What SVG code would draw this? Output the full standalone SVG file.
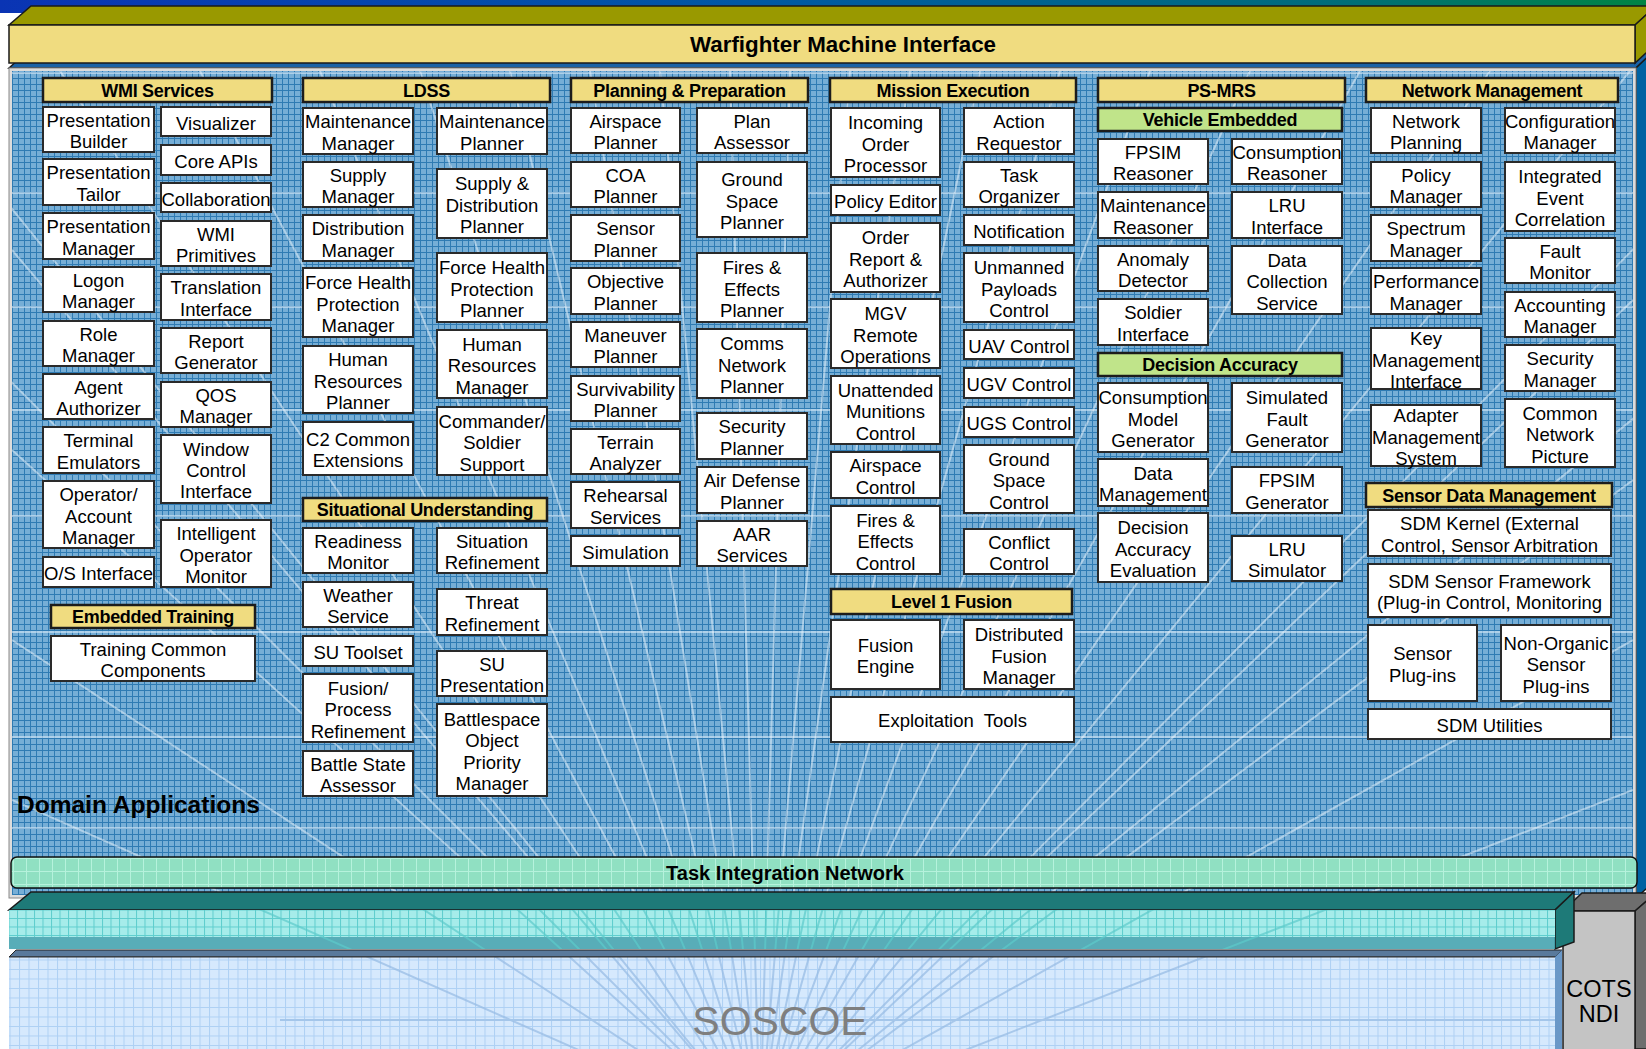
<svg xmlns="http://www.w3.org/2000/svg" width="1646" height="1049" viewBox="0 0 1646 1049">
  <style>
    .n{fill:#fff;stroke:#2a2a2a;stroke-width:2}
    .hy{fill:#f0dc80;stroke:#1c1c1c;stroke-width:2.5}
    .hg{fill:#c0e48a;stroke:#1c1c1c;stroke-width:2.5}
    .t{font-family:"Liberation Sans",Arial,sans-serif;font-size:18.5px;text-anchor:middle;fill:#000}
    .h{font-family:"Liberation Sans",Arial,sans-serif;font-size:18px;font-weight:bold;text-anchor:middle;letter-spacing:-0.3px;fill:#000}
    .edge{stroke:#1a1a1a;stroke-width:1.5}
    .ray-dom{fill:none;stroke:#eaf4fc;stroke-opacity:.5;stroke-width:2}
    .ray-cyan{fill:none;stroke:#5ccaca;stroke-opacity:.7;stroke-width:2}
    .ray-sos{fill:none;stroke:#98bce4;stroke-opacity:.75;stroke-width:2}
    .floor{stroke:#d6e8f6;stroke-opacity:.6;stroke-width:2}
  </style>
  <defs>
    <linearGradient id="topBand" x1="0" y1="0" x2="1" y2="0">
      <stop offset="0" stop-color="#0a34b4"/>
      <stop offset="0.45" stop-color="#0058a4"/>
      <stop offset="0.8" stop-color="#006c7c"/>
      <stop offset="1" stop-color="#008444"/>
    </linearGradient>
    <pattern id="gridDomain" width="6" height="6" patternUnits="userSpaceOnUse">
      <rect width="6" height="6" fill="#76aed6"/>
      <path d="M0 0.5H6M0.5 0V6" stroke="#2f7bb3" stroke-width="1"/>
    </pattern>
    <pattern id="gridTin" width="13" height="13" patternUnits="userSpaceOnUse">
      <rect width="13" height="13" fill="#90e0c2"/>
      <path d="M0 0.5H13M0.5 0V13" stroke="#b6f2dc" stroke-width="1"/>
    </pattern>
    <pattern id="gridCyan" width="8.5" height="8.5" patternUnits="userSpaceOnUse">
      <rect width="8.5" height="8.5" fill="#a6ecea"/>
      <path d="M0 0.5H8.5M0.5 0V8.5" stroke="#5ecdcd" stroke-width="1"/>
    </pattern>
    <pattern id="gridSos" width="9.5" height="9.5" patternUnits="userSpaceOnUse">
      <rect width="9.5" height="9.5" fill="#d6e9fd"/>
      <path d="M0 0.5H9.5M0.5 0V9.5" stroke="#aed0f4" stroke-width="1"/>
    </pattern>
    <clipPath id="clipDomain"><rect x="12" y="71" width="1621" height="824"/></clipPath>
    <clipPath id="clipCyan"><rect x="9" y="910" width="1546" height="39"/></clipPath>
    <clipPath id="clipSos"><rect x="9" y="957" width="1546" height="92"/></clipPath>
    <!-- perspective rays converging below the SOSCOE layer -->
    <path id="rays" d="M760 1130L12 250M760 1130L12 450M760 1130L12 640M760 1130L12 800
      M760 1130L-300 71M760 1130L-100 71M760 1130L60 71M760 1130L200 71M760 1130L320 71
      M760 1130L420 71M760 1130L510 71M760 1130L590 71M760 1130L660 71M760 1130L730 71
      M760 1130L790 71M760 1130L850 71M760 1130L910 71M760 1130L980 71M760 1130L1060 71
      M760 1130L1150 71M760 1130L1250 71M760 1130L1360 71M760 1130L1490 71M760 1130L1630 71
      M760 1130L1810 71M760 1130L2060 71M760 1130L1633 300M760 1130L1633 480
      M760 1130L1633 640M760 1130L1633 790"/>
  </defs>

  <rect width="1646" height="1049" fill="#fff"/>
  <rect x="0" y="0" width="1646" height="13" fill="url(#topBand)"/>

  <!-- Domain Applications panel (3D box) -->
  <g id="domain-panel">
    <polygon points="9,68 30,49 1656,49 1636,68" fill="#1a62a6" class="edge"/>
    <polygon points="1636,68 1656,49 1656,880 1636,898" fill="#0062a2" class="edge"/>
    <rect x="9" y="68" width="1627" height="830" fill="#dcdcdc" stroke="#8a8a8a" stroke-width="1"/>
    <rect x="12" y="71" width="1621" height="824" fill="url(#gridDomain)"/>
    <g clip-path="url(#clipDomain)">
      <path class="floor" d="M12 73H1633M12 193H1633M12 307H1633M12 410H1633M12 516H1633M12 632H1633M12 737H1633M12 828H1633"/>
      <use href="#rays" class="ray-dom"/>
    </g>
    <text x="17" y="813" font-family="'Liberation Sans',Arial,sans-serif" font-size="24.5" font-weight="bold" fill="#000">Domain Applications</text>
  </g>

  <!-- Warfighter Machine Interface slab -->
  <g id="wmi-slab">
    <polygon points="31,6 1656,6 1635,25 9,25" fill="#999900" class="edge"/>
    <polygon points="1635,25 1656,6 1656,44 1635,63" fill="#999900" class="edge"/>
    <rect x="9" y="25" width="1626" height="38" fill="#f0dc80" class="edge"/>
    <text x="843" y="52" font-family="'Liberation Sans',Arial,sans-serif" font-size="22" font-weight="bold" text-anchor="middle" textLength="306" lengthAdjust="spacingAndGlyphs">Warfighter Machine Interface</text>
  </g>

  <!-- Task Integration Network bar -->
  <g id="task-integration-network">
    <rect x="11" y="857" width="1626" height="31" rx="6" fill="url(#gridTin)" stroke="#111" stroke-width="1.5"/>
    <text x="785" y="880" font-family="'Liberation Sans',Arial,sans-serif" font-size="20" font-weight="bold" text-anchor="middle" textLength="238" lengthAdjust="spacingAndGlyphs">Task Integration Network</text>
  </g>

  <!-- COTS / NDI block -->
  <g id="cots-ndi">
    <polygon points="1563,911 1582,893 1656,893 1635,911" fill="#6e6e6e" class="edge"/>
    <polygon points="1635,911 1656,893 1656,1049 1635,1049" fill="#6e6e6e" class="edge"/>
    <rect x="1563" y="911" width="72" height="140" fill="#c4c4c4" class="edge"/>
    <text x="1599" y="997" font-family="'Liberation Sans',Arial,sans-serif" font-size="23.5" text-anchor="middle">COTS</text>
    <text x="1599" y="1022" font-family="'Liberation Sans',Arial,sans-serif" font-size="23.5" text-anchor="middle">NDI</text>
  </g>

  <!-- SOSCOE layer -->
  <g id="soscoe">
    <polygon points="31,892 1574,892 1555,910 9,910" fill="#1e7a78" class="edge"/>
    <polygon points="1555,910 1574,892 1574,942 1555,949" fill="#1e7a78" class="edge"/>
    <rect x="9" y="910" width="1546" height="27" fill="url(#gridCyan)"/>
    <rect x="9" y="937" width="1546" height="12" fill="#46a4b0" opacity="0.9"/>
    <g clip-path="url(#clipCyan)"><use href="#rays" class="ray-cyan"/></g>
    <polygon points="9,957 16,950 1562,950 1555,957" fill="#5a7a9c" stroke="#222" stroke-width="1"/>
    <polygon points="1555,957 1562,950 1562,1049 1555,1049" fill="#6a98c8"/>
    <rect x="9" y="957" width="1546" height="92" fill="url(#gridSos)"/>
    <g clip-path="url(#clipSos)">
      <use href="#rays" class="ray-sos"/>
      <path d="M280 1020H1555" stroke="#a4c6ea" stroke-width="2"/>
    </g>
    <line x1="9" y1="957" x2="1555" y2="957" stroke="#333" stroke-width="1"/>
    <text x="780" y="1035" font-family="'Liberation Sans',Arial,sans-serif" font-size="41" fill="#7f7f7f" text-anchor="middle">SOSCOE</text>
  </g>

  <g id="connectors"/>

  <!-- ===== WMI Services ===== -->
  <g id="wmi-services-header"><rect class="hy" x="43" y="78" width="229" height="24"/><text class="h" x="157.5" y="97">WMI Services</text></g>
  <g id="presentation-builder"><rect class="n" x="43" y="107" width="111" height="45"/><text class="t"><tspan x="98.5" y="126.75">Presentation</tspan><tspan x="98.5" y="148.25">Builder</tspan></text></g>
  <g id="presentation-tailor"><rect class="n" x="43" y="159" width="111" height="46"/><text class="t"><tspan x="98.5" y="179.25">Presentation</tspan><tspan x="98.5" y="200.75">Tailor</tspan></text></g>
  <g id="presentation-manager"><rect class="n" x="43" y="213" width="111" height="46"/><text class="t"><tspan x="98.5" y="233.25">Presentation</tspan><tspan x="98.5" y="254.75">Manager</tspan></text></g>
  <g id="logon-manager"><rect class="n" x="43" y="267" width="111" height="45"/><text class="t"><tspan x="98.5" y="286.75">Logon</tspan><tspan x="98.5" y="308.25">Manager</tspan></text></g>
  <g id="role-manager"><rect class="n" x="43" y="321" width="111" height="45"/><text class="t"><tspan x="98.5" y="340.75">Role</tspan><tspan x="98.5" y="362.25">Manager</tspan></text></g>
  <g id="agent-authorizer"><rect class="n" x="43" y="374" width="111" height="45"/><text class="t"><tspan x="98.5" y="393.75">Agent</tspan><tspan x="98.5" y="415.25">Authorizer</tspan></text></g>
  <g id="terminal-emulators"><rect class="n" x="43" y="427" width="111" height="46"/><text class="t"><tspan x="98.5" y="447.25">Terminal</tspan><tspan x="98.5" y="468.75">Emulators</tspan></text></g>
  <g id="operator-account-manager"><rect class="n" x="43" y="481" width="111" height="67"/><text class="t"><tspan x="98.5" y="501">Operator/</tspan><tspan x="98.5" y="522.5">Account</tspan><tspan x="98.5" y="544">Manager</tspan></text></g>
  <g id="os-interface"><rect class="n" x="43" y="557" width="111" height="30"/><text class="t" x="98.5" y="580">O/S Interface</text></g>
  <g id="visualizer"><rect class="n" x="161" y="107" width="110" height="29"/><text class="t" x="216" y="129.5">Visualizer</text></g>
  <g id="core-apis"><rect class="n" x="161" y="145" width="110" height="30"/><text class="t" x="216" y="168">Core APIs</text></g>
  <g id="collaboration"><rect class="n" x="161" y="183" width="110" height="29"/><text class="t" x="216" y="205.5">Collaboration</text></g>
  <g id="wmi-primitives"><rect class="n" x="161" y="221" width="110" height="45"/><text class="t"><tspan x="216" y="240.75">WMI</tspan><tspan x="216" y="262.25">Primitives</tspan></text></g>
  <g id="translation-interface"><rect class="n" x="161" y="274" width="110" height="46"/><text class="t"><tspan x="216" y="294.25">Translation</tspan><tspan x="216" y="315.75">Interface</tspan></text></g>
  <g id="report-generator"><rect class="n" x="161" y="328" width="110" height="45"/><text class="t"><tspan x="216" y="347.75">Report</tspan><tspan x="216" y="369.25">Generator</tspan></text></g>
  <g id="qos-manager"><rect class="n" x="161" y="382" width="110" height="45"/><text class="t"><tspan x="216" y="401.75">QOS</tspan><tspan x="216" y="423.25">Manager</tspan></text></g>
  <g id="window-control-interface"><rect class="n" x="161" y="435" width="110" height="68"/><text class="t"><tspan x="216" y="456">Window</tspan><tspan x="216" y="477">Control</tspan><tspan x="216" y="498">Interface</tspan></text></g>
  <g id="intelligent-operator-monitor"><rect class="n" x="161" y="520" width="110" height="67"/><text class="t"><tspan x="216" y="540">Intelligent</tspan><tspan x="216" y="561.5">Operator</tspan><tspan x="216" y="583">Monitor</tspan></text></g>
  <g id="embedded-training-header"><rect class="hy" x="51" y="605" width="204" height="23"/><text class="h" x="153" y="623">Embedded Training</text></g>
  <g id="training-common-components"><rect class="n" x="51" y="636" width="204" height="45"/><text class="t"><tspan x="153" y="655.75">Training Common</tspan><tspan x="153" y="677.25">Components</tspan></text></g>

  <!-- ===== LDSS ===== -->
  <g id="ldss-header"><rect class="hy" x="303" y="78" width="247" height="24"/><text class="h" x="426.5" y="97">LDSS</text></g>
  <g id="maintenance-manager"><rect class="n" x="303" y="108" width="110" height="46"/><text class="t"><tspan x="358" y="128.25">Maintenance</tspan><tspan x="358" y="149.75">Manager</tspan></text></g>
  <g id="supply-manager"><rect class="n" x="303" y="162" width="110" height="45"/><text class="t"><tspan x="358" y="181.75">Supply</tspan><tspan x="358" y="203.25">Manager</tspan></text></g>
  <g id="distribution-manager"><rect class="n" x="303" y="215" width="110" height="46"/><text class="t"><tspan x="358" y="235.25">Distribution</tspan><tspan x="358" y="256.75">Manager</tspan></text></g>
  <g id="fhp-manager"><rect class="n" x="303" y="268" width="110" height="69"/><text class="t"><tspan x="358" y="289">Force Health</tspan><tspan x="358" y="310.5">Protection</tspan><tspan x="358" y="332">Manager</tspan></text></g>
  <g id="hr-planner"><rect class="n" x="303" y="346" width="110" height="67"/><text class="t"><tspan x="358" y="366">Human</tspan><tspan x="358" y="387.5">Resources</tspan><tspan x="358" y="409">Planner</tspan></text></g>
  <g id="c2-common-extensions"><rect class="n" x="303" y="422" width="110" height="53"/><text class="t"><tspan x="358" y="445.75">C2 Common</tspan><tspan x="358" y="467.25">Extensions</tspan></text></g>
  <g id="maintenance-planner"><rect class="n" x="437" y="108" width="110" height="46"/><text class="t"><tspan x="492" y="128.25">Maintenance</tspan><tspan x="492" y="149.75">Planner</tspan></text></g>
  <g id="supply-distribution-planner"><rect class="n" x="437" y="169" width="110" height="69"/><text class="t"><tspan x="492" y="190">Supply &amp;</tspan><tspan x="492" y="211.5">Distribution</tspan><tspan x="492" y="233">Planner</tspan></text></g>
  <g id="fhp-planner"><rect class="n" x="437" y="253" width="110" height="69"/><text class="t"><tspan x="492" y="274">Force Health</tspan><tspan x="492" y="295.5">Protection</tspan><tspan x="492" y="317">Planner</tspan></text></g>
  <g id="hr-manager"><rect class="n" x="437" y="330" width="110" height="68"/><text class="t"><tspan x="492" y="350.5">Human</tspan><tspan x="492" y="372">Resources</tspan><tspan x="492" y="393.5">Manager</tspan></text></g>
  <g id="commander-soldier-support"><rect class="n" x="437" y="407" width="110" height="68"/><text class="t"><tspan x="492" y="427.5">Commander/</tspan><tspan x="492" y="449">Soldier</tspan><tspan x="492" y="470.5">Support</tspan></text></g>
  <g id="su-header"><rect class="hy" x="303" y="498" width="244" height="23"/><text class="h" x="425" y="516">Situational Understanding</text></g>
  <g id="readiness-monitor"><rect class="n" x="303" y="528" width="110" height="45"/><text class="t"><tspan x="358" y="547.75">Readiness</tspan><tspan x="358" y="569.25">Monitor</tspan></text></g>
  <g id="weather-service"><rect class="n" x="303" y="582" width="110" height="45"/><text class="t"><tspan x="358" y="601.75">Weather</tspan><tspan x="358" y="623.25">Service</tspan></text></g>
  <g id="su-toolset"><rect class="n" x="303" y="636" width="110" height="30"/><text class="t" x="358" y="659">SU Toolset</text></g>
  <g id="fusion-process-refinement"><rect class="n" x="303" y="674" width="110" height="68"/><text class="t"><tspan x="358" y="694.5">Fusion/</tspan><tspan x="358" y="716">Process</tspan><tspan x="358" y="737.5">Refinement</tspan></text></g>
  <g id="battle-state-assessor"><rect class="n" x="303" y="751" width="110" height="45"/><text class="t"><tspan x="358" y="770.75">Battle State</tspan><tspan x="358" y="792.25">Assessor</tspan></text></g>
  <g id="situation-refinement"><rect class="n" x="437" y="528" width="110" height="45"/><text class="t"><tspan x="492" y="547.75">Situation</tspan><tspan x="492" y="569.25">Refinement</tspan></text></g>
  <g id="threat-refinement"><rect class="n" x="437" y="589" width="110" height="46"/><text class="t"><tspan x="492" y="609.25">Threat</tspan><tspan x="492" y="630.75">Refinement</tspan></text></g>
  <g id="su-presentation"><rect class="n" x="437" y="651" width="110" height="45"/><text class="t"><tspan x="492" y="670.75">SU</tspan><tspan x="492" y="692.25">Presentation</tspan></text></g>
  <g id="battlespace-object-priority-manager"><rect class="n" x="437" y="704" width="110" height="92"/><text class="t"><tspan x="492" y="725.75">Battlespace</tspan><tspan x="492" y="747.25">Object</tspan><tspan x="492" y="768.75">Priority</tspan><tspan x="492" y="790.25">Manager</tspan></text></g>

  <!-- ===== Planning & Preparation ===== -->
  <g id="planning-header"><rect class="hy" x="571" y="78" width="237" height="24"/><text class="h" x="689.5" y="97">Planning &amp; Preparation</text></g>
  <g id="airspace-planner"><rect class="n" x="571" y="108" width="109" height="45"/><text class="t"><tspan x="625.5" y="127.75">Airspace</tspan><tspan x="625.5" y="149.25">Planner</tspan></text></g>
  <g id="coa-planner"><rect class="n" x="571" y="162" width="109" height="45"/><text class="t"><tspan x="625.5" y="181.75">COA</tspan><tspan x="625.5" y="203.25">Planner</tspan></text></g>
  <g id="sensor-planner"><rect class="n" x="571" y="215" width="109" height="46"/><text class="t"><tspan x="625.5" y="235.25">Sensor</tspan><tspan x="625.5" y="256.75">Planner</tspan></text></g>
  <g id="objective-planner"><rect class="n" x="571" y="268" width="109" height="46"/><text class="t"><tspan x="625.5" y="288.25">Objective</tspan><tspan x="625.5" y="309.75">Planner</tspan></text></g>
  <g id="maneuver-planner"><rect class="n" x="571" y="322" width="109" height="45"/><text class="t"><tspan x="625.5" y="341.75">Maneuver</tspan><tspan x="625.5" y="363.25">Planner</tspan></text></g>
  <g id="survivability-planner"><rect class="n" x="571" y="376" width="109" height="45"/><text class="t"><tspan x="625.5" y="395.75">Survivability</tspan><tspan x="625.5" y="417.25">Planner</tspan></text></g>
  <g id="terrain-analyzer"><rect class="n" x="571" y="429" width="109" height="45"/><text class="t"><tspan x="625.5" y="448.75">Terrain</tspan><tspan x="625.5" y="470.25">Analyzer</tspan></text></g>
  <g id="rehearsal-services"><rect class="n" x="571" y="482" width="109" height="46"/><text class="t"><tspan x="625.5" y="502.25">Rehearsal</tspan><tspan x="625.5" y="523.75">Services</tspan></text></g>
  <g id="simulation"><rect class="n" x="571" y="536" width="109" height="30"/><text class="t" x="625.5" y="559">Simulation</text></g>
  <g id="plan-assessor"><rect class="n" x="697" y="108" width="110" height="45"/><text class="t"><tspan x="752" y="127.75">Plan</tspan><tspan x="752" y="149.25">Assessor</tspan></text></g>
  <g id="ground-space-planner"><rect class="n" x="697" y="162" width="110" height="75"/><text class="t"><tspan x="752" y="186">Ground</tspan><tspan x="752" y="207.5">Space</tspan><tspan x="752" y="229">Planner</tspan></text></g>
  <g id="fires-effects-planner"><rect class="n" x="697" y="253" width="110" height="69"/><text class="t"><tspan x="752" y="274">Fires &amp;</tspan><tspan x="752" y="295.5">Effects</tspan><tspan x="752" y="317">Planner</tspan></text></g>
  <g id="comms-network-planner"><rect class="n" x="697" y="329" width="110" height="69"/><text class="t"><tspan x="752" y="350">Comms</tspan><tspan x="752" y="371.5">Network</tspan><tspan x="752" y="393">Planner</tspan></text></g>
  <g id="security-planner"><rect class="n" x="697" y="413" width="110" height="46"/><text class="t"><tspan x="752" y="433.25">Security</tspan><tspan x="752" y="454.75">Planner</tspan></text></g>
  <g id="air-defense-planner"><rect class="n" x="697" y="467" width="110" height="46"/><text class="t"><tspan x="752" y="487.25">Air Defense</tspan><tspan x="752" y="508.75">Planner</tspan></text></g>
  <g id="aar-services"><rect class="n" x="697" y="521" width="110" height="45"/><text class="t"><tspan x="752" y="540.75">AAR</tspan><tspan x="752" y="562.25">Services</tspan></text></g>

  <!-- ===== Mission Execution ===== -->
  <g id="mission-execution-header"><rect class="hy" x="830" y="78" width="246" height="24"/><text class="h" x="953" y="97">Mission Execution</text></g>
  <g id="incoming-order-processor"><rect class="n" x="831" y="108" width="109" height="69"/><text class="t"><tspan x="885.5" y="129">Incoming</tspan><tspan x="885.5" y="150.5">Order</tspan><tspan x="885.5" y="172">Processor</tspan></text></g>
  <g id="policy-editor"><rect class="n" x="831" y="185" width="109" height="30"/><text class="t" x="885.5" y="208">Policy Editor</text></g>
  <g id="order-report-authorizer"><rect class="n" x="831" y="223" width="109" height="69"/><text class="t"><tspan x="885.5" y="244">Order</tspan><tspan x="885.5" y="265.5">Report &amp;</tspan><tspan x="885.5" y="287">Authorizer</tspan></text></g>
  <g id="mgv-remote-operations"><rect class="n" x="831" y="299" width="109" height="69"/><text class="t"><tspan x="885.5" y="320">MGV</tspan><tspan x="885.5" y="341.5">Remote</tspan><tspan x="885.5" y="363">Operations</tspan></text></g>
  <g id="unattended-munitions-control"><rect class="n" x="831" y="376" width="109" height="68"/><text class="t"><tspan x="885.5" y="396.5">Unattended</tspan><tspan x="885.5" y="418">Munitions</tspan><tspan x="885.5" y="439.5">Control</tspan></text></g>
  <g id="airspace-control"><rect class="n" x="831" y="452" width="109" height="46"/><text class="t"><tspan x="885.5" y="472.25">Airspace</tspan><tspan x="885.5" y="493.75">Control</tspan></text></g>
  <g id="fires-effects-control"><rect class="n" x="831" y="506" width="109" height="68"/><text class="t"><tspan x="885.5" y="526.5">Fires &amp;</tspan><tspan x="885.5" y="548">Effects</tspan><tspan x="885.5" y="569.5">Control</tspan></text></g>
  <g id="action-requestor"><rect class="n" x="964" y="108" width="110" height="46"/><text class="t"><tspan x="1019" y="128.25">Action</tspan><tspan x="1019" y="149.75">Requestor</tspan></text></g>
  <g id="task-organizer"><rect class="n" x="964" y="162" width="110" height="45"/><text class="t"><tspan x="1019" y="181.75">Task</tspan><tspan x="1019" y="203.25">Organizer</tspan></text></g>
  <g id="notification"><rect class="n" x="964" y="215" width="110" height="30"/><text class="t" x="1019" y="238">Notification</text></g>
  <g id="unmanned-payloads-control"><rect class="n" x="964" y="253" width="110" height="69"/><text class="t"><tspan x="1019" y="274">Unmanned</tspan><tspan x="1019" y="295.5">Payloads</tspan><tspan x="1019" y="317">Control</tspan></text></g>
  <g id="uav-control"><rect class="n" x="964" y="330" width="110" height="29"/><text class="t" x="1019" y="352.5">UAV Control</text></g>
  <g id="ugv-control"><rect class="n" x="964" y="368" width="110" height="30"/><text class="t" x="1019" y="391">UGV Control</text></g>
  <g id="ugs-control"><rect class="n" x="964" y="407" width="110" height="30"/><text class="t" x="1019" y="430">UGS Control</text></g>
  <g id="ground-space-control"><rect class="n" x="964" y="445" width="110" height="68"/><text class="t"><tspan x="1019" y="465.5">Ground</tspan><tspan x="1019" y="487">Space</tspan><tspan x="1019" y="508.5">Control</tspan></text></g>
  <g id="conflict-control"><rect class="n" x="964" y="529" width="110" height="45"/><text class="t"><tspan x="1019" y="548.75">Conflict</tspan><tspan x="1019" y="570.25">Control</tspan></text></g>
  <g id="level1-fusion-header"><rect class="hy" x="831" y="589" width="241" height="25"/><text class="h" x="951.5" y="608">Level 1 Fusion</text></g>
  <g id="fusion-engine"><rect class="n" x="831" y="620" width="109" height="69"/><text class="t"><tspan x="885.5" y="651.75">Fusion</tspan><tspan x="885.5" y="673.25">Engine</tspan></text></g>
  <g id="distributed-fusion-manager"><rect class="n" x="964" y="620" width="110" height="69"/><text class="t"><tspan x="1019" y="641">Distributed</tspan><tspan x="1019" y="662.5">Fusion</tspan><tspan x="1019" y="684">Manager</tspan></text></g>
  <g id="exploitation-tools"><rect class="n" x="831" y="697" width="243" height="45"/><text class="t" x="952.5" y="727" xml:space="preserve">Exploitation  Tools</text></g>

  <!-- ===== PS-MRS ===== -->
  <g id="ps-mrs-header"><rect class="hy" x="1098" y="78" width="247" height="24"/><text class="h" x="1221.5" y="97">PS-MRS</text></g>
  <g id="vehicle-embedded-header"><rect class="hg" x="1098" y="108" width="244" height="23"/><text class="h" x="1220" y="126">Vehicle Embedded</text></g>
  <g id="fpsim-reasoner"><rect class="n" x="1098" y="139" width="110" height="45"/><text class="t"><tspan x="1153" y="158.75">FPSIM</tspan><tspan x="1153" y="180.25">Reasoner</tspan></text></g>
  <g id="maintenance-reasoner"><rect class="n" x="1098" y="192" width="110" height="46"/><text class="t"><tspan x="1153" y="212.25">Maintenance</tspan><tspan x="1153" y="233.75">Reasoner</tspan></text></g>
  <g id="anomaly-detector"><rect class="n" x="1098" y="246" width="110" height="45"/><text class="t"><tspan x="1153" y="265.75">Anomaly</tspan><tspan x="1153" y="287.25">Detector</tspan></text></g>
  <g id="soldier-interface"><rect class="n" x="1098" y="299" width="110" height="46"/><text class="t"><tspan x="1153" y="319.25">Soldier</tspan><tspan x="1153" y="340.75">Interface</tspan></text></g>
  <g id="consumption-reasoner"><rect class="n" x="1232" y="139" width="110" height="45"/><text class="t"><tspan x="1287" y="158.75">Consumption</tspan><tspan x="1287" y="180.25">Reasoner</tspan></text></g>
  <g id="lru-interface"><rect class="n" x="1232" y="192" width="110" height="46"/><text class="t"><tspan x="1287" y="212.25">LRU</tspan><tspan x="1287" y="233.75">Interface</tspan></text></g>
  <g id="data-collection-service"><rect class="n" x="1232" y="246" width="110" height="68"/><text class="t"><tspan x="1287" y="266.5">Data</tspan><tspan x="1287" y="288">Collection</tspan><tspan x="1287" y="309.5">Service</tspan></text></g>
  <g id="decision-accuracy-header"><rect class="hg" x="1098" y="353" width="244" height="23"/><text class="h" x="1220" y="371">Decision Accuracy</text></g>
  <g id="consumption-model-generator"><rect class="n" x="1098" y="383" width="110" height="69"/><text class="t"><tspan x="1153" y="404">Consumption</tspan><tspan x="1153" y="425.5">Model</tspan><tspan x="1153" y="447">Generator</tspan></text></g>
  <g id="data-management"><rect class="n" x="1098" y="459" width="110" height="47"/><text class="t"><tspan x="1153" y="479.75">Data</tspan><tspan x="1153" y="501.25">Management</tspan></text></g>
  <g id="decision-accuracy-evaluation"><rect class="n" x="1098" y="513" width="110" height="69"/><text class="t"><tspan x="1153" y="534">Decision</tspan><tspan x="1153" y="555.5">Accuracy</tspan><tspan x="1153" y="577">Evaluation</tspan></text></g>
  <g id="simulated-fault-generator"><rect class="n" x="1232" y="383" width="110" height="69"/><text class="t"><tspan x="1287" y="404">Simulated</tspan><tspan x="1287" y="425.5">Fault</tspan><tspan x="1287" y="447">Generator</tspan></text></g>
  <g id="fpsim-generator"><rect class="n" x="1232" y="467" width="110" height="46"/><text class="t"><tspan x="1287" y="487.25">FPSIM</tspan><tspan x="1287" y="508.75">Generator</tspan></text></g>
  <g id="lru-simulator"><rect class="n" x="1232" y="536" width="110" height="45"/><text class="t"><tspan x="1287" y="555.75">LRU</tspan><tspan x="1287" y="577.25">Simulator</tspan></text></g>

  <!-- ===== Network Management ===== -->
  <g id="network-management-header"><rect class="hy" x="1366" y="78" width="252" height="24"/><text class="h" x="1492" y="97">Network Management</text></g>
  <g id="network-planning"><rect class="n" x="1371" y="108" width="110" height="45"/><text class="t"><tspan x="1426" y="127.75">Network</tspan><tspan x="1426" y="149.25">Planning</tspan></text></g>
  <g id="policy-manager"><rect class="n" x="1371" y="162" width="110" height="45"/><text class="t"><tspan x="1426" y="181.75">Policy</tspan><tspan x="1426" y="203.25">Manager</tspan></text></g>
  <g id="spectrum-manager"><rect class="n" x="1371" y="215" width="110" height="46"/><text class="t"><tspan x="1426" y="235.25">Spectrum</tspan><tspan x="1426" y="256.75">Manager</tspan></text></g>
  <g id="performance-manager"><rect class="n" x="1371" y="268" width="110" height="46"/><text class="t"><tspan x="1426" y="288.25">Performance</tspan><tspan x="1426" y="309.75">Manager</tspan></text></g>
  <g id="key-management-interface"><rect class="n" x="1371" y="328" width="110" height="61"/><text class="t"><tspan x="1426" y="345">Key</tspan><tspan x="1426" y="366.5">Management</tspan><tspan x="1426" y="388">Interface</tspan></text></g>
  <g id="adapter-management-system"><rect class="n" x="1371" y="405" width="110" height="61"/><text class="t"><tspan x="1426" y="422">Adapter</tspan><tspan x="1426" y="443.5">Management</tspan><tspan x="1426" y="465">System</tspan></text></g>
  <g id="configuration-manager"><rect class="n" x="1505" y="108" width="110" height="45"/><text class="t"><tspan x="1560" y="127.75">Configuration</tspan><tspan x="1560" y="149.25">Manager</tspan></text></g>
  <g id="integrated-event-correlation"><rect class="n" x="1505" y="162" width="110" height="69"/><text class="t"><tspan x="1560" y="183">Integrated</tspan><tspan x="1560" y="204.5">Event</tspan><tspan x="1560" y="226">Correlation</tspan></text></g>
  <g id="fault-monitor"><rect class="n" x="1505" y="238" width="110" height="45"/><text class="t"><tspan x="1560" y="257.75">Fault</tspan><tspan x="1560" y="279.25">Monitor</tspan></text></g>
  <g id="accounting-manager"><rect class="n" x="1505" y="292" width="110" height="45"/><text class="t"><tspan x="1560" y="311.75">Accounting</tspan><tspan x="1560" y="333.25">Manager</tspan></text></g>
  <g id="security-manager"><rect class="n" x="1505" y="345" width="110" height="46"/><text class="t"><tspan x="1560" y="365.25">Security</tspan><tspan x="1560" y="386.75">Manager</tspan></text></g>
  <g id="common-network-picture"><rect class="n" x="1505" y="399" width="110" height="68"/><text class="t"><tspan x="1560" y="419.5">Common</tspan><tspan x="1560" y="441">Network</tspan><tspan x="1560" y="462.5">Picture</tspan></text></g>
  <g id="sdm-header"><rect class="hy" x="1366" y="483" width="246" height="24"/><text class="h" x="1489" y="501.5">Sensor Data Management</text></g>
  <g id="sdm-kernel"><rect class="n" x="1368" y="510" width="243" height="46"/><text class="t"><tspan x="1489.5" y="530.25">SDM Kernel (External</tspan><tspan x="1489.5" y="551.75">Control, Sensor Arbitration</tspan></text></g>
  <g id="sdm-sensor-framework"><rect class="n" x="1368" y="564" width="243" height="53"/><text class="t"><tspan x="1489.5" y="587.75">SDM Sensor Framework</tspan><tspan x="1489.5" y="609.25">(Plug-in Control, Monitoring</tspan></text></g>
  <g id="sensor-plug-ins"><rect class="n" x="1368" y="625" width="109" height="76"/><text class="t"><tspan x="1422.5" y="660.25">Sensor</tspan><tspan x="1422.5" y="681.75">Plug-ins</tspan></text></g>
  <g id="non-organic-sensor-plug-ins"><rect class="n" x="1501" y="625" width="110" height="76"/><text class="t"><tspan x="1556" y="649.5">Non-Organic</tspan><tspan x="1556" y="671">Sensor</tspan><tspan x="1556" y="692.5">Plug-ins</tspan></text></g>
  <g id="sdm-utilities"><rect class="n" x="1368" y="709" width="243" height="30"/><text class="t" x="1489.5" y="732">SDM Utilities</text></g>
</svg>
